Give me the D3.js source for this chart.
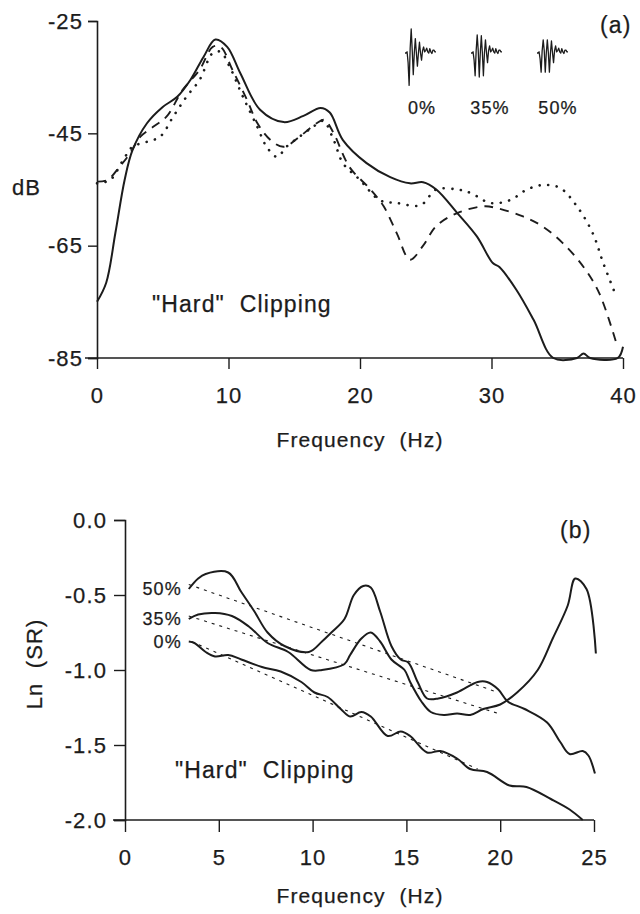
<!DOCTYPE html>
<html>
<head>
<meta charset="utf-8">
<script src="https://cdn.jsdelivr.net/npm/d3@7"></script>
<style>
  html, body { margin: 0; padding: 0; background: #fff; }
  svg { display: block; }
  text { font-family: "Liberation Sans", Arial, Helvetica, sans-serif; fill: #1c1c1c;
         stroke: #1c1c1c; stroke-width: 0.25px; letter-spacing: 1.1px; }
</style>
</head>
<body>
<svg id="chart" width="640" height="914"></svg>
<script>
// ---------- Panel (a): power spectra, dB vs frequency ----------
const specTicksX = [0, 10, 20, 30, 40];
const specTickLabelsX = ["0", "10", "20", "30", "40"];
const specTicksY = [-85, -65, -45, -25];
const specTickLabelsY = ["-85", "-65", "-45", "-25"];

// [frequency (Hz), level (dB)]
const spec0 = [
  [0, -75], [0.7, -71.6], [1.4, -62.7], [2.1, -53.3], [2.7, -48], [3.8, -43.2],
  [5.0, -40.3], [6.1, -38.5], [7.1, -35.5], [8.1, -31.4], [9.0, -28.3], [9.9, -29.6],
  [10.9, -34.3], [12.4, -40.8], [14.2, -43], [15.7, -41.9], [17.0, -40.5], [17.7, -41.3],
  [18.7, -46.2], [20.5, -50.3], [22.3, -52.8], [23.8, -53.9], [24.8, -53.7], [25.8, -55],
  [27.4, -59.2], [28.9, -63.4], [30.1, -68.1], [30.6, -68.8], [31.9, -72.9], [33.2, -78.2],
  [34.7, -85], [36.5, -85], [37.0, -84.2], [37.5, -85], [39.6, -85], [40, -83]
];
const spec35 = [
  [0, -53.6], [0.8, -53.3], [1.7, -51], [2.5, -48.6], [3.3, -45.6], [4.3, -43.8],
  [5.3, -42], [6.5, -37.3], [7.8, -33.7], [8.8, -29.6], [9.4, -29.6], [10.3, -33.7],
  [11.4, -39], [12.2, -43.2], [13.2, -46.2], [14.2, -47.4], [15.4, -45.6], [16.7, -43.2],
  [17.3, -42.6], [18.0, -45], [19.2, -51], [20.8, -55], [21.8, -58], [22.8, -62.8],
  [23.8, -67.5], [24.8, -65], [25.8, -61.5], [27.4, -59.2], [29.4, -58], [30.4, -58.3],
  [32.4, -59.8], [33.9, -61.6], [35.4, -64.5], [37.0, -68.8], [38.2, -73.5], [39.5, -82.4]
];
const spec50 = [
  [0, -53.9], [1.0, -53.3], [2.0, -49.7], [2.7, -47.4], [3.8, -46.5], [4.8, -45.6],
  [5.8, -42], [6.8, -38.5], [7.8, -35.5], [8.8, -30.7], [9.4, -30.5], [10.1, -33.2],
  [11.1, -38.5], [12.2, -43.9], [12.9, -47.4], [13.7, -49.2], [14.4, -47.4], [15.4, -45.6],
  [16.4, -43.9], [17.2, -42.8], [18.0, -46.2], [18.7, -50.3], [20.0, -53.3], [21.5, -56.9],
  [22.8, -57.4], [24.6, -57.8], [25.8, -55], [27.4, -55], [28.4, -55.6], [29.9, -57.4],
  [31.4, -56.9], [32.7, -55], [33.9, -54.2], [35.2, -54.7], [36.5, -58], [37.7, -62.8],
  [38.5, -68.1], [39.5, -74.1]
];

// Inset pulse shapes (amplitude per sample) for each clipping level
const waveLabels = ["0%", "35%", "50%"];
const wave0 = [0, 0, 0.05, -0.4, -1.35, 0.2, 1.0, 0.1, -0.9, 0, 0.6, 0, -0.55, 0, 0.45, 0,
  -0.3, 0.1, 0.25, 0.05, 0.1, 0.2, 0.05, 0, 0.18, 0.05, -0.02, 0.12, 0.12, 0.05, 0.05];
const wave35 = [0, 0, 0.05, -0.3, -0.95, 0.1, 0.75, 0.1, -1.0, 0, 0.72, 0, -0.95, 0, 0.55, 0,
  -0.4, 0.1, 0.3, 0.05, 0.1, 0.2, 0.05, 0, 0.18, 0.05, -0.02, 0.12, 0.12, 0.05, 0.05];
const wave50 = [0, 0, 0.05, -0.25, -0.8, 0.1, 0.55, 0.1, -0.8, 0, 0.55, 0, -0.8, 0, 0.5, 0,
  -0.4, 0.1, 0.3, 0.05, 0.1, 0.2, 0.05, 0, 0.18, 0.05, -0.02, 0.12, 0.12, 0.05, 0.05];

// ---------- Panel (b): Ln(SR) vs frequency ----------
const srTicksX = [0, 5, 10, 15, 20, 25];
const srTickLabelsX = ["0", "5", "10", "15", "20", "25"];
const srTicksY = [-2, -1.5, -1, -0.5, 0];
const srTickLabelsY = ["-2.0", "-1.5", "-1.0", "-0.5", "0.0"];
const srLabels = ["50%", "35%", "0%"];

const sr50 = [
  [3.4, -0.46], [3.9, -0.39], [4.3, -0.36], [5.5, -0.35], [6.2, -0.48], [6.9, -0.61],
  [7.6, -0.75], [8.5, -0.84], [9.8, -0.88], [10.5, -0.81], [11.0, -0.75], [11.7, -0.66],
  [12.2, -0.5], [12.7, -0.44], [13.1, -0.45], [13.6, -0.61], [14.2, -0.84], [14.7, -0.93],
  [15.1, -0.95], [15.6, -1.08], [16.1, -1.19], [16.7, -1.19], [17.7, -1.15], [18.8, -1.08],
  [19.3, -1.08], [19.9, -1.13], [20.4, -1.21], [21.3, -1.26], [22.5, -1.35], [23.2, -1.48],
  [23.7, -1.56], [24.4, -1.54], [24.7, -1.57], [25.05, -1.69]
];
const sr35 = [
  [3.4, -0.66], [3.9, -0.63], [4.8, -0.62], [5.7, -0.64], [6.6, -0.71], [7.6, -0.82],
  [8.7, -0.88], [9.9, -1.0], [10.5, -1.0], [11.7, -0.96], [12.0, -0.9], [12.6, -0.79],
  [13.1, -0.75], [13.6, -0.81], [14.2, -0.93], [14.9, -1.0], [15.2, -1.08], [15.8, -1.21],
  [16.3, -1.28], [17.0, -1.3], [17.7, -1.29], [18.4, -1.3], [19.1, -1.26], [20.0, -1.23],
  [20.9, -1.15], [22.0, -1.0], [22.8, -0.79], [23.6, -0.57], [24.0, -0.39], [24.6, -0.46],
  [25.1, -0.89]
];
const sr0 = [
  [3.4, -0.81], [3.7, -0.82], [4.3, -0.88], [4.8, -0.91], [5.5, -0.9], [6.2, -0.93],
  [7.3, -0.98], [8.3, -1.01], [9.4, -1.08], [10.1, -1.15], [10.8, -1.18], [11.5, -1.26],
  [12.0, -1.31], [12.6, -1.28], [13.1, -1.31], [14.0, -1.44], [14.7, -1.41], [15.2, -1.44],
  [16.1, -1.55], [16.8, -1.54], [17.7, -1.59], [18.4, -1.66], [19.3, -1.68], [20.5, -1.77],
  [21.4, -1.78], [22.7, -1.86], [23.7, -1.93], [24.4, -2.0]
];
// Straight-line fits (start, end) for each clipping level
const fit50 = [[3.4, -0.43], [19.9, -1.15]];
const fit35 = [[3.4, -0.64], [19.9, -1.29]];
const fit0 = [[3.55, -0.81], [18.8, -1.66]];

const svg = d3.select("#chart");
const ink = "#1c1c1c";
const fs = 22;

function styleAxis(g) {
  g.select(".domain").attr("stroke", ink).attr("stroke-width", 1.6);
  g.selectAll(".tick line").attr("stroke", ink).attr("stroke-width", 1.4);
  g.selectAll(".tick text").attr("fill", ink).style("font-size", fs + "px")
    .style("font-family", '"Liberation Sans", Arial, sans-serif');
}

// ===== Panel (a) =====
const xA = d3.scaleLinear().domain([0, 40]).range([97, 623]);
const yA = d3.scaleLinear().domain([-85, -25]).range([358, 21]);

svg.append("g").attr("transform", `translate(0,${yA(-85)})`)
  .call(d3.axisBottom(xA).tickValues(specTicksX)
    .tickFormat((d, i) => specTickLabelsX[i]).tickSizeOuter(0).tickSize(11).tickPadding(18))
  .call(styleAxis)
  .call(g => g.select(".domain").attr("d", `M${xA(0) - 12},0H${xA(40)}`));

svg.append("g").attr("transform", `translate(${xA(0)},0)`)
  .call(d3.axisLeft(yA).tickValues(specTicksY)
    .tickFormat((d, i) => specTickLabelsY[i]).tickSizeOuter(0).tickSize(9).tickPadding(5))
  .call(styleAxis);

const lineA = d3.line().x(d => xA(d[0])).y(d => yA(d[1])).curve(d3.curveCatmullRom.alpha(0.5));

svg.append("path").datum(spec0).attr("d", lineA)
  .attr("fill", "none").attr("stroke", ink).attr("stroke-width", 2);
svg.append("path").datum(spec35).attr("d", lineA)
  .attr("fill", "none").attr("stroke", ink).attr("stroke-width", 1.9)
  .attr("stroke-dasharray", "9,7");
svg.append("path").datum(spec50).attr("d", lineA)
  .attr("fill", "none").attr("stroke", ink).attr("stroke-width", 2.6)
  .attr("stroke-linecap", "round").attr("stroke-dasharray", "0.1,8.5");

svg.append("text").attr("x", 12).attr("y", 195).style("font-size", fs + "px").text("dB");
svg.append("text").attr("x", 152).attr("y", 312).style("font-size", "23px")
  .text("\"Hard\"\u00a0 Clipping");
svg.append("text").attr("x", 600).attr("y", 33).style("font-size", "23px").text("(a)");
svg.append("text").attr("x", 360).attr("y", 447).attr("text-anchor", "middle")
  .style("font-size", "21px").text("Frequency\u00a0 (Hz)");

// Inset pulse shapes
const waves = [wave0, wave35, wave50];
const waveX0 = [405, 471, 537];
const waveLabelX = [422, 490, 558];
const ampScale = d3.scaleLinear().domain([-1, 1]).range([77, 29]);
waves.forEach((w, k) => {
  const tx = d3.scaleLinear().domain([0, w.length - 1]).range([waveX0[k], waveX0[k] + 31]);
  const wl = d3.line().x((d, i) => tx(i)).y(d => ampScale(d));
  svg.append("path").datum(w).attr("d", wl)
    .attr("fill", "none").attr("stroke", ink).attr("stroke-width", 1.3)
    .attr("stroke-linejoin", "round");
  svg.append("text").attr("x", waveLabelX[k]).attr("y", 114).attr("text-anchor", "middle")
    .style("font-size", "18px").text(waveLabels[k]);
});

// ===== Panel (b) =====
const xB = d3.scaleLinear().domain([0, 25]).range([125, 594]);
const yB = d3.scaleLinear().domain([-2, 0]).range([820, 520]);

svg.append("g").attr("transform", `translate(0,${yB(-2)})`)
  .call(d3.axisBottom(xB).tickValues(srTicksX)
    .tickFormat((d, i) => srTickLabelsX[i]).tickSizeOuter(0).tickSize(12).tickPadding(17))
  .call(styleAxis)
  .call(g => g.select(".domain").attr("d", `M${xB(0) - 12},0H${xB(25)}`));

svg.append("g").attr("transform", `translate(${xB(0)},0)`)
  .call(d3.axisLeft(yB).tickValues(srTicksY)
    .tickFormat((d, i) => srTickLabelsY[i]).tickSizeOuter(0).tickSize(11).tickPadding(7))
  .call(styleAxis);

const lineB = d3.line().x(d => xB(d[0])).y(d => yB(d[1])).curve(d3.curveCatmullRom.alpha(0.5));
[sr50, sr35, sr0].forEach(s => {
  svg.append("path").datum(s).attr("d", lineB)
    .attr("fill", "none").attr("stroke", ink).attr("stroke-width", 2);
});
const fitLine = d3.line().x(d => xB(d[0])).y(d => yB(d[1]));
[fit50, fit35, fit0].forEach(f => {
  svg.append("path").datum(f).attr("d", fitLine)
    .attr("fill", "none").attr("stroke", ink).attr("stroke-width", 1.1)
    .attr("stroke-dasharray", "3,5");
});

// Level labels at the start of each curve
const srStarts = [sr50[0], sr35[0], sr0[0]];
srStarts.forEach((p, i) => {
  svg.append("text").attr("x", xB(p[0]) - 7).attr("y", yB(p[1]) + 6)
    .attr("text-anchor", "end").style("font-size", "18px").text(srLabels[i]);
});

svg.append("text").attr("transform", "translate(42,664) rotate(-90)")
  .attr("text-anchor", "middle").style("font-size", fs + "px").text("Ln\u00a0 (SR)");
svg.append("text").attr("x", 175).attr("y", 778).style("font-size", "23px")
  .text("\"Hard\"\u00a0 Clipping");
svg.append("text").attr("x", 560).attr("y", 538).style("font-size", "23px").text("(b)");
svg.append("text").attr("x", 360).attr("y", 903).attr("text-anchor", "middle")
  .style("font-size", "21px").text("Frequency\u00a0 (Hz)");
</script>
</body>
</html>
